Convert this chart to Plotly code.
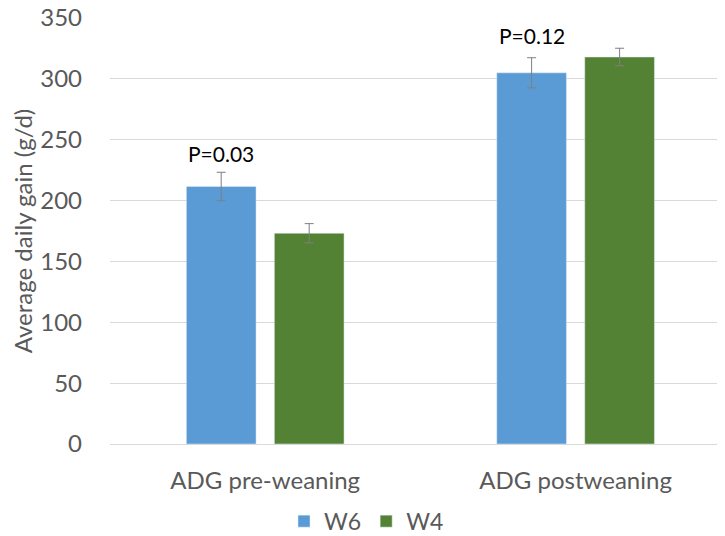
import plotly.graph_objects as go

categories = ["ADG pre-weaning", "ADG postweaning"]
series_names = ["W6", "W4"]
w6_values = [211.6, 305.0]
w6_errors = [11.7, 12.4]
w4_values = [173.2, 318.0]
w4_errors = [7.9, 7.2]
p_labels = ["P=0.03", "P=0.12"]
p_label_y = [239, 336]
y_ticks = [0, 50, 100, 150, 200, 250, 300, 350]

colors = {"W6": "#5B9BD5", "W4": "#548235"}
font_family = "Lato, 'Open Sans', sans-serif"
grey_text = "#595959"

fig = go.Figure()
for name, vals, errs in [("W6", w6_values, w6_errors), ("W4", w4_values, w4_errors)]:
    fig.add_trace(go.Bar(
        name=name, x=categories, y=vals,
        marker=dict(color=colors[name]),
        error_y=dict(type="data", array=errs, visible=True,
                     color="#7f7f7f", thickness=1, width=4.5),
    ))

bargap = 0.433
bargroupgap = 0.208
slot = (1 - bargap) / 2
for i, (lab, yv) in enumerate(zip(p_labels, p_label_y)):
    fig.add_annotation(x=i - slot / 2, y=yv, xref="x", yref="y", text=lab,
                       showarrow=False, font=dict(size=21, color="#000000", family=font_family),
                       xanchor="center", yanchor="middle")

# page body has an 8px margin: figure is sized to the visible area
fig.update_layout(
    width=717, height=528,
    margin=dict(l=102, r=0, t=10, b=92, autoexpand=False),
    paper_bgcolor="white", plot_bgcolor="white",
    barmode="group", bargap=bargap, bargroupgap=bargroupgap,
    font=dict(family=font_family, size=24, color=grey_text),
    showlegend=True,
    legend=dict(orientation="h", xref="container", yref="container",
                x=0.5, xanchor="center", y=0.028, yanchor="middle",
                font=dict(size=23, color=grey_text), itemwidth=30),
    xaxis=dict(range=[-0.5, 1.4813], showgrid=False, showline=False, ticks="",
               automargin=False,
               tickfont=dict(size=24, color=grey_text), ticklabelstandoff=20),
    yaxis=dict(range=[0, 350.05], tickvals=y_ticks, showgrid=True, gridcolor="#d9d9d9",
               gridwidth=1, zeroline=True, zerolinecolor="#d9d9d9", zerolinewidth=1,
               showline=False, tickfont=dict(size=24, color=grey_text),
               ticklabelstandoff=27, automargin=False, ticklabeloverflow="allow",
               title=dict(text="Average daily gain (g/d)", font=dict(size=24, color=grey_text),
                          standoff=8)),
)

fig.write_html("out.html")
